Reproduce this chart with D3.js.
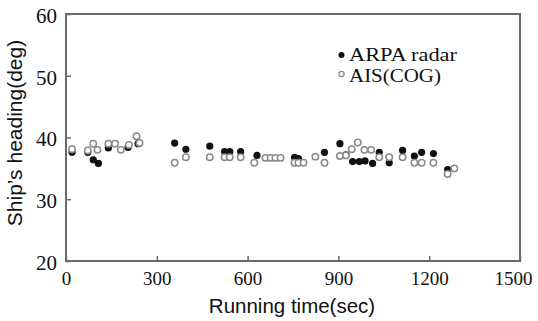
<!DOCTYPE html>
<html><head><meta charset="utf-8">
<script src="https://cdn.jsdelivr.net/npm/d3@7"></script>
<style>body{margin:0;background:#fff}</style>
</head><body>
<script>
const xTicks = [0, 300, 600, 900, 1200, 1500];
const yTicks = [20, 30, 40, 50, 60];
const seriesNames = ["ARPA radar", "AIS(COG)"];
const arpaTime  = [20,72,90,107,140,205,238,359,396,475,524,541,577,631,755,768,854,905,925,947,969,988,1013,1035,1068,1112,1151,1175,1214,1261];
const arpaValue = [37.6,37.6,36.4,35.8,38.3,38.4,39.0,39.1,38.1,38.6,37.7,37.7,37.7,37.1,36.8,36.6,37.6,39.0,37.2,36.1,36.1,36.2,35.8,37.6,35.9,37.9,37.0,37.6,37.4,34.8];
const aisTime  = [20,72,90,104,140,162,181,208,233,243,359,396,475,524,541,577,622,659,676,692,709,755,768,785,824,854,905,925,944,964,986,1008,1035,1068,1112,1151,1175,1214,1261,1283];
const aisValue = [38.1,37.9,39.0,38.0,39.0,39.0,38.0,38.8,40.2,39.1,35.9,36.8,36.8,36.8,36.8,36.8,35.9,36.7,36.7,36.7,36.7,35.9,35.9,35.9,36.9,35.9,37.0,37.1,38.1,39.2,38.0,38.0,36.8,36.8,36.8,35.9,35.9,35.9,34.1,35.0];

const W = 538, H = 321;
const serifFont = "'Liberation Serif', 'DejaVu Serif', serif";
const sansFont = "'Liberation Sans', Arial, sans-serif";
const svg = d3.select("body").append("svg").attr("width", W).attr("height", H);
const x = d3.scaleLinear().domain([0, 1500]).range([66, 520]);
const y = d3.scaleLinear().domain([20, 60]).range([261, 14]);
const frameColor = "#6a6a6a";

svg.append("rect").attr("x", x(0)).attr("y", y(60)).attr("width", x(1500) - x(0)).attr("height", y(20) - y(60))
  .attr("fill", "none").attr("stroke", frameColor).attr("stroke-width", 2);

const xAxis = d3.axisBottom(x).tickValues(xTicks).tickFormat(d3.format("d")).tickSizeInner(-5).tickSizeOuter(0).tickPadding(10);
const gx = svg.append("g").attr("transform", `translate(0,${y(20)})`).call(xAxis)
  .attr("font-family", serifFont).attr("font-size", 19);
gx.select(".domain").remove();
gx.selectAll(".tick line").attr("stroke", frameColor).attr("stroke-width", 1.5);
gx.selectAll(".tick text").attr("fill", "#111").attr("dy", "0.75em")
  .attr("dx", d => d === 1500 ? -7 : 0);

const yAxis = d3.axisLeft(y).tickValues(yTicks).tickFormat(d3.format("d")).tickSizeInner(-5).tickSizeOuter(0).tickPadding(9);
const gy = svg.append("g").attr("transform", `translate(${x(0)},0)`).call(yAxis)
  .attr("font-family", serifFont).attr("font-size", 21);
gy.select(".domain").remove();
gy.selectAll(".tick line").attr("stroke", frameColor).attr("stroke-width", 1.5);
gy.selectAll(".tick text").attr("fill", "#111").attr("dy", "0.4em");

svg.append("text").attr("x", 292).attr("y", 313).attr("text-anchor", "middle")
  .attr("font-family", sansFont).attr("font-size", 20.5).attr("fill", "#111").text("Running time(sec)");
svg.append("text").attr("transform", "translate(22,133) rotate(-90)").attr("text-anchor", "middle")
  .attr("font-family", sansFont).attr("font-size", 21).attr("fill", "#111").text("Ship\u2019s heading(deg)");

const arpa = arpaTime.map((t, i) => ({t, v: arpaValue[i]}));
const ais = aisTime.map((t, i) => ({t, v: aisValue[i]}));
svg.append("g").selectAll("circle").data(arpa).join("circle")
  .attr("cx", d => x(d.t)).attr("cy", d => y(d.v)).attr("r", 3.6).attr("fill", "#111");
svg.append("g").selectAll("circle").data(ais).join("circle")
  .attr("cx", d => x(d.t)).attr("cy", d => y(d.v)).attr("r", 3.2)
  .attr("fill", "#fff").attr("stroke", "#8a8a8a").attr("stroke-width", 1.5);

const lg = svg.append("g").attr("font-family", serifFont).attr("font-size", 19.5).attr("fill", "#111");
lg.append("circle").attr("cx", 341.5).attr("cy", 55).attr("r", 3).attr("fill", "#111");
lg.append("circle").attr("cx", 341.5).attr("cy", 74).attr("r", 2.6).attr("fill", "#fff").attr("stroke", "#8a8a8a").attr("stroke-width", 1.3);
lg.append("text").attr("x", 349).attr("y", 60.5).attr("textLength", 108).attr("lengthAdjust", "spacingAndGlyphs").text(seriesNames[0]);
lg.append("text").attr("x", 349).attr("y", 81.5).attr("textLength", 92).attr("lengthAdjust", "spacingAndGlyphs").text(seriesNames[1]);
</script>
</body></html>
